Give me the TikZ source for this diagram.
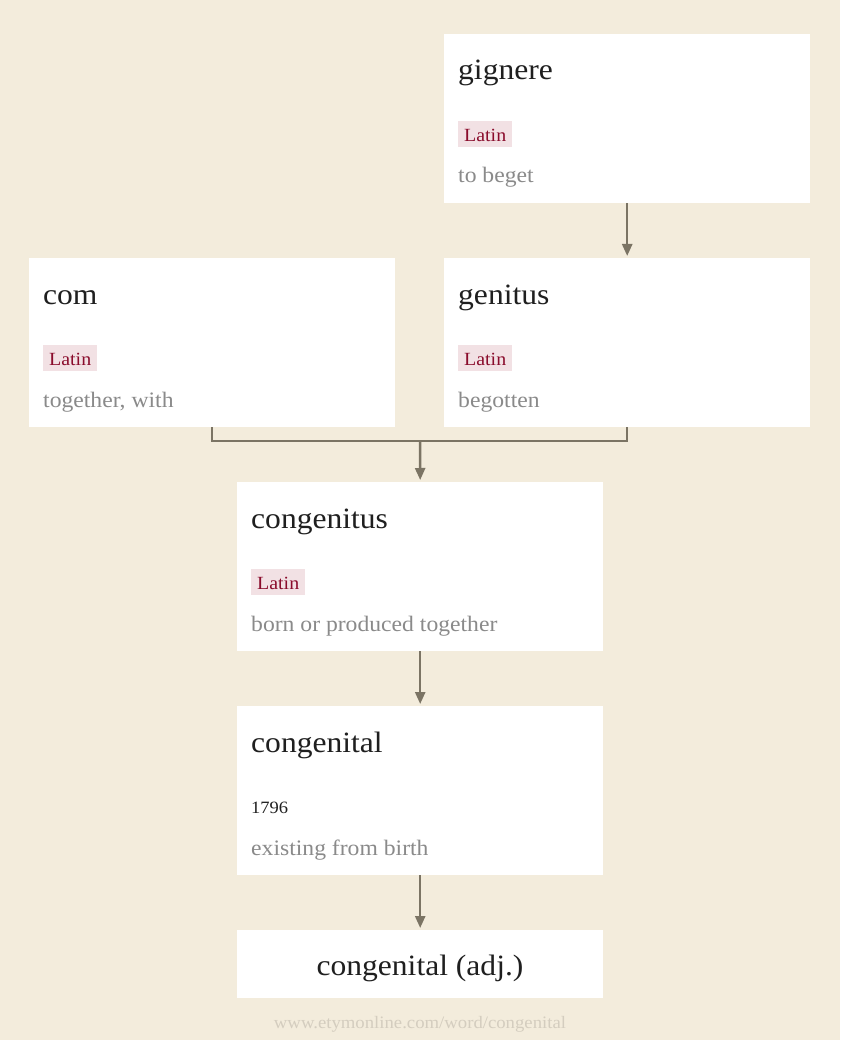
\documentclass[tikz,border=0pt]{standalone}
\usepackage{fontspec}
\setmainfont{Liberation Serif}[FakeStretch=1.07]
\usetikzlibrary{arrows.meta}

\definecolor{paper}{HTML}{F3ECDC}
\definecolor{linkcol}{HTML}{7B7464}
\definecolor{latinred}{HTML}{8A0C2C}
\definecolor{latinbg}{HTML}{F2E1E4}
\definecolor{glossgray}{HTML}{8A8A8A}
\definecolor{urlgray}{HTML}{D4CDBF}

\tikzset{
  wordbox/.style={fill=white, inner sep=0pt, anchor=north west,
    minimum width=366pt, minimum height=169pt},
  lastbox/.style={wordbox, minimum height=68pt},
  title/.style={anchor=base west, inner sep=0pt, text=black!88,
    font=\fontsize{29.5}{32}\selectfont},
  lang/.style={anchor=west, fill=latinbg, text=latinred, inner xsep=6pt,
    inner ysep=0pt, minimum height=26pt, text height=15pt, text depth=0pt,
    font=\fontsize{18.6}{21}\selectfont},
  gloss/.style={anchor=base west, inner sep=0pt, text=glossgray,
    font=\fontsize{22.1}{25}\selectfont},
  year/.style={anchor=base west, inner sep=0pt, text=black!88,
    font=\fontsize{17.3}{20}\selectfont},
  line/.style={draw=linkcol, line width=2.5pt},
  link/.style={line, -{Triangle[length=12pt,width=10pt]}, shorten >=2pt}
}

\begin{document}
\begin{tikzpicture}[x=1pt, y=-1pt]
  \fill[paper] (0,0) rectangle (840,1040);
  \useasboundingbox (0,0) rectangle (840,1040);

  % word boxes
  \node[wordbox] (gignere) at (444,34) {};
  \node[wordbox] (com) at (29,258) {};
  \node[wordbox] (genitus) at (444,258) {};
  \node[wordbox] (congenitus) at (237,482) {};
  \node[wordbox] (congenital) at (237,706) {};
  \node[lastbox] (adj) at (237,930) {};

  \node[title] (t1) at (458,80) {gignere};
  \node[lang] (l1) at (458,134) {Latin};
  \node[gloss] (g1) at (458,183) {to beget};

  \node[title] (t2) at (43,304) {com};
  \node[lang] (l2) at (43,358) {Latin};
  \node[gloss] (g2) at (43,407) {together, with};

  \node[title] (t3) at (458,304) {genitus};
  \node[lang] (l3) at (458,358) {Latin};
  \node[gloss] (g3) at (458,407) {begotten};

  \node[title] (t4) at (251,528) {congenitus};
  \node[lang] (l4) at (251,582) {Latin};
  \node[gloss] (g4) at (251,631) {born or produced together};

  \node[title] (t5) at (251,752) {congenital};
  \node[year] (y5) at (251,813) {1796};
  \node[gloss] (g5) at (251,855) {existing from birth};

  \node[title, anchor=base] (t6) at (420,975) {congenital (adj.)};

  \node[anchor=base, inner sep=0pt, text=urlgray,
    font=\fontsize{17.5}{20}\selectfont] (url) at (420,1028)
    {www.etymonline.com/word/congenital};

  % connectors
  \coordinate (merge) at (420,441);
  \draw[line] (com.south) |- (merge) -| (genitus.south);
  \draw[link] (merge) -- (congenitus.north);
  \draw[link] (gignere) -- (genitus);
  \draw[link] (congenitus) -- (congenital);
  \draw[link] (congenital) -- (adj);
\end{tikzpicture}
\end{document}
